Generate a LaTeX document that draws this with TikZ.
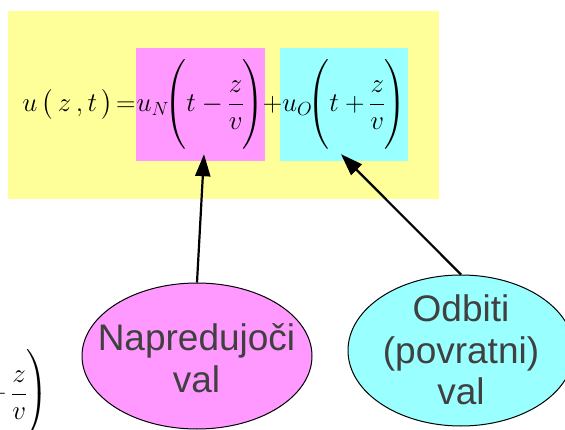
\RequirePackage{fix-cm}
\documentclass[tikz,border=0pt]{standalone}
\usepackage{amsmath}
\usepackage{fontspec}
\setsansfont{Liberation Sans}
\usetikzlibrary{arrows.meta, positioning, shapes.geometric, calc}
\definecolor{cyellow}{HTML}{FFFF99}
\definecolor{cpink}{HTML}{FF99FF}
\definecolor{ccyan}{HTML}{99FFFF}
\definecolor{cink}{HTML}{404040}
\newcommand{\wavemath}{\fontsize{27}{38}\selectfont\setlength{\nulldelimiterspace}{0pt}}
\tikzset{
  every picture/.style={x=1pt, y=-1pt},
  formula/.style={inner sep=0pt, font=\wavemath},
  part/.style={formula, fill=#1, minimum width=129pt, minimum height=113pt},
  wave/.style={draw=black, fill=#1, ellipse, line width=1pt, inner sep=0pt},
  wavetext/.style={font=\fontsize{37}{41.5}\selectfont\sffamily, text=cink, align=center, inner sep=0pt},
  arrow/.style={-{Triangle[length=22pt, width=15pt]}, line width=2.2pt},
}
\begin{document}
\begin{tikzpicture}
  \useasboundingbox (0,0) rectangle (565,430);
  \node[fill=cyellow, minimum width=431pt, minimum height=188pt, inner sep=0pt] (sheet) at (223.5,105) {};
  \node[part=cpink] (fwd) at (200.5,104.5) {$\displaystyle u_N\!\Biggl(t-\frac{z}{v}\Biggr)$};
  \node[part=ccyan, minimum width=128pt] (bwd) at (344,104.5) {$\displaystyle u_O\!\Biggl(t+\frac{z}{v}\Biggr)$};
  \node[formula, anchor=base east] (lhs) at (fwd.base west) {$u\,\bigl(\,z\,,t\,\bigr)\!=$};
  \node[formula, anchor=base] (plus) at ($(fwd.base east)!0.5!(bwd.base west)$) {$+$};
  \node[formula, anchor=east] (echo) at (48,394) {$\displaystyle u_O\!\Biggl(t+\frac{z}{v}\Biggr)$};
  \node[wave=cpink, minimum width=230pt, minimum height=146pt] (napr) at (197,356) {};
  \node[wavetext] (naprlbl) at (196.5,358) {Napredujoči\\val};
  \node[wave=ccyan, minimum width=226pt, minimum height=151pt] (odb) at (461,350.5) {};
  \node[wavetext] (odblbl) at (461,350) {Odbiti\\(povratni)\\val};
  \draw[arrow] (napr.north) -- ([shift={(3.5,-7)}]fwd.south);
  \draw[arrow] (odb.north) -- ([shift={(-3,-7)}]bwd.south);
\end{tikzpicture}
\end{document}
